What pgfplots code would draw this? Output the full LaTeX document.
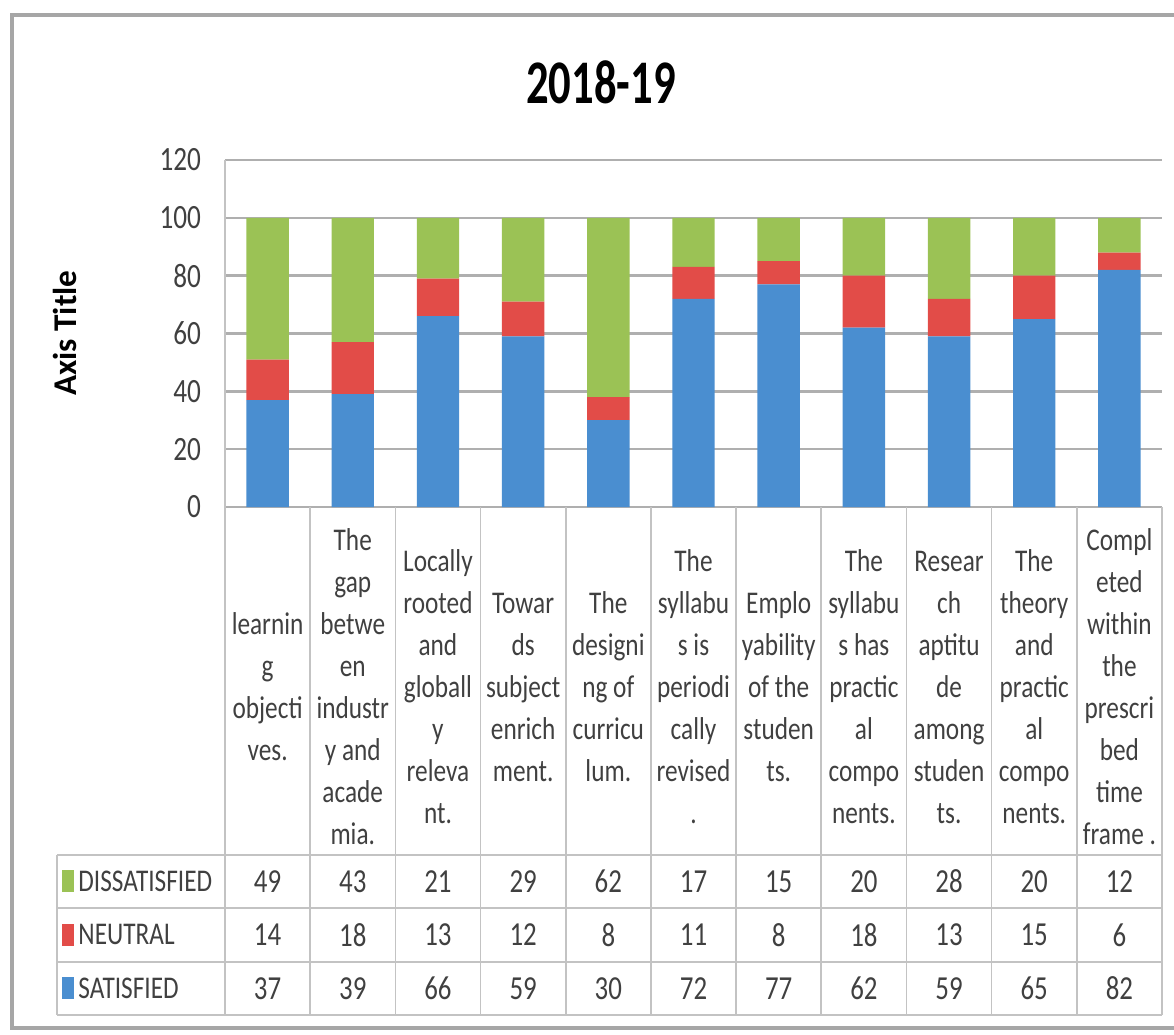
\documentclass[border=0pt]{standalone}
\usepackage{pgfplots}
\pgfplotsset{compat=1.18}
\usepackage{pgfplotstable}
\usepackage{fontspec}
\setmainfont{Carlito}[FakeStretch=0.8]
\newfontfamily\titlefont{Carlito}[FakeStretch=0.72]
\newfontfamily\plainfont{Carlito}

\definecolor{satblue}{RGB}{74,142,208}
\definecolor{neured}{RGB}{226,76,72}
\definecolor{disgreen}{RGB}{155,194,85}
\definecolor{txt}{RGB}{64,64,64}
\definecolor{gridc}{RGB}{175,175,175}
\definecolor{tabc}{RGB}{195,195,195}

% one row per category: satisfied, neutral, dissatisfied
\pgfplotstableread{
x sat neu dis
0 37 14 49
1 39 18 43
2 66 13 21
3 59 12 29
4 30 8 62
5 72 11 17
6 77 8 15
7 62 18 20
8 59 13 28
9 65 15 20
10 82 6 12
}\datatable

\begin{document}
\begin{tikzpicture}[numnode/.style={font=\fontsize{8.4}{10}\selectfont, text=txt},
  legnode/.style={font=\fontsize{7.9}{10}\selectfont, text=txt, anchor=west, inner sep=0pt}]
\useasboundingbox (-56.25pt,-132pt) rectangle (237.25pt,126.75pt);
\draw[gray!70, line width=0.8pt] (237.25pt,123pt) -- (-53.25pt,123pt) -- (-53.25pt,-130.25pt) -- (237.25pt,-130.25pt);
\node[font=\titlefont\fontsize{15.5}{18}\selectfont\bfseries] at (94pt,106.25pt) {2018-19};

\begin{axis}[
  at={(0pt,0pt)}, anchor=south west, scale only axis,
  width=234.25pt, height=86.75pt,
  xmin=-0.5, xmax=10.5, ymin=0, ymax=120,
  ybar stacked, bar width=10.6pt,
  clip=false,
  axis line style={draw=none},
  major tick length=0pt,
  ytick={0,20,...,120},
  ymajorgrids, grid style={gridc, line width=0.6pt},
  xtick={0,...,10},
  xticklabels={
    {learnin\\g\\objecti\\ves.},
    {The\\gap\\betwe\\en\\industr\\y and\\acade\\mia.},
    {Locally\\rooted\\and\\globall\\y\\releva\\nt.},
    {Towar\\ds\\subject\\enrich\\ment.},
    {The\\designi\\ng of\\curricu\\lum.},
    {The\\syllabu\\s is\\periodi\\cally\\revised\\.},
    {Emplo\\yability\\of the\\studen\\ts.},
    {The\\syllabu\\s has\\practic\\al\\compo\\nents.},
    {Resear\\ch\\aptitu\\de\\among\\studen\\ts.},
    {The\\theory\\and\\practic\\al\\compo\\nents.},
    {Compl\\eted\\within\\the\\prescri\\bed\\time\\frame .}},
  xticklabel style={anchor=center, yshift=-45pt, align=center,
    font=\fontsize{7.9}{10.5}\selectfont, text=txt},
  yticklabel style={font=\fontsize{8.5}{10}\selectfont, text=txt, xshift=-2.5pt},
  /pgf/number format/assume math mode=true,
  ylabel={Axis Title},
  ylabel style={at={(axis description cs:-0.1708,0.501)}, anchor=center,
    font=\plainfont\fontsize{8.3}{10}\selectfont\bfseries},
]
\addplot[fill=satblue, draw=none] table[x=x, y=sat] {\datatable};
\addplot[fill=neured, draw=none] table[x=x, y=neu] {\datatable};
\addplot[fill=disgreen, draw=none] table[x=x, y=dis] {\datatable};

% data table grid
\draw[tabc] (axis cs:-0.5,120) -- (axis cs:-0.5,-175.7);
\pgfplotsinvokeforeach{0.5,1.5,...,10.5}{\draw[tabc] (axis cs:#1,0) -- (axis cs:#1,-175.7);}
\pgfplotsinvokeforeach{-120.3,-138.7,-157.3,-175.7}{\draw[tabc] (axis cs:-2.47,#1) -- (axis cs:10.5,#1);}
\draw[tabc] (axis cs:-2.47,-120.3) -- (axis cs:-2.47,-175.7);

% legend column
\node[fill=disgreen, minimum width=3pt, minimum height=5.5pt, inner sep=0pt] at (axis cs:-2.34,-129.5) {};
\node[legnode] at (axis cs:-2.23,-129.5) {DISSATISFIED};
\node[fill=neured, minimum width=3pt, minimum height=5.5pt, inner sep=0pt] at (axis cs:-2.34,-148) {};
\node[legnode] at (axis cs:-2.23,-148) {NEUTRAL};
\node[fill=satblue, minimum width=3pt, minimum height=5.5pt, inner sep=0pt] at (axis cs:-2.34,-166.5) {};
\node[legnode] at (axis cs:-2.23,-166.5) {SATISFIED};

% values in the table
\pgfplotsinvokeforeach{0,...,10}{%
  \pgfplotstablegetelem{#1}{dis}\of\datatable
  \edef\tmp{\noexpand\node[numnode] at (axis cs:#1,-129.5) {\pgfplotsretval};}\tmp
  \pgfplotstablegetelem{#1}{neu}\of\datatable
  \edef\tmp{\noexpand\node[numnode] at (axis cs:#1,-148) {\pgfplotsretval};}\tmp
  \pgfplotstablegetelem{#1}{sat}\of\datatable
  \edef\tmp{\noexpand\node[numnode] at (axis cs:#1,-166.5) {\pgfplotsretval};}\tmp
}
\end{axis}
\end{tikzpicture}
\end{document}
